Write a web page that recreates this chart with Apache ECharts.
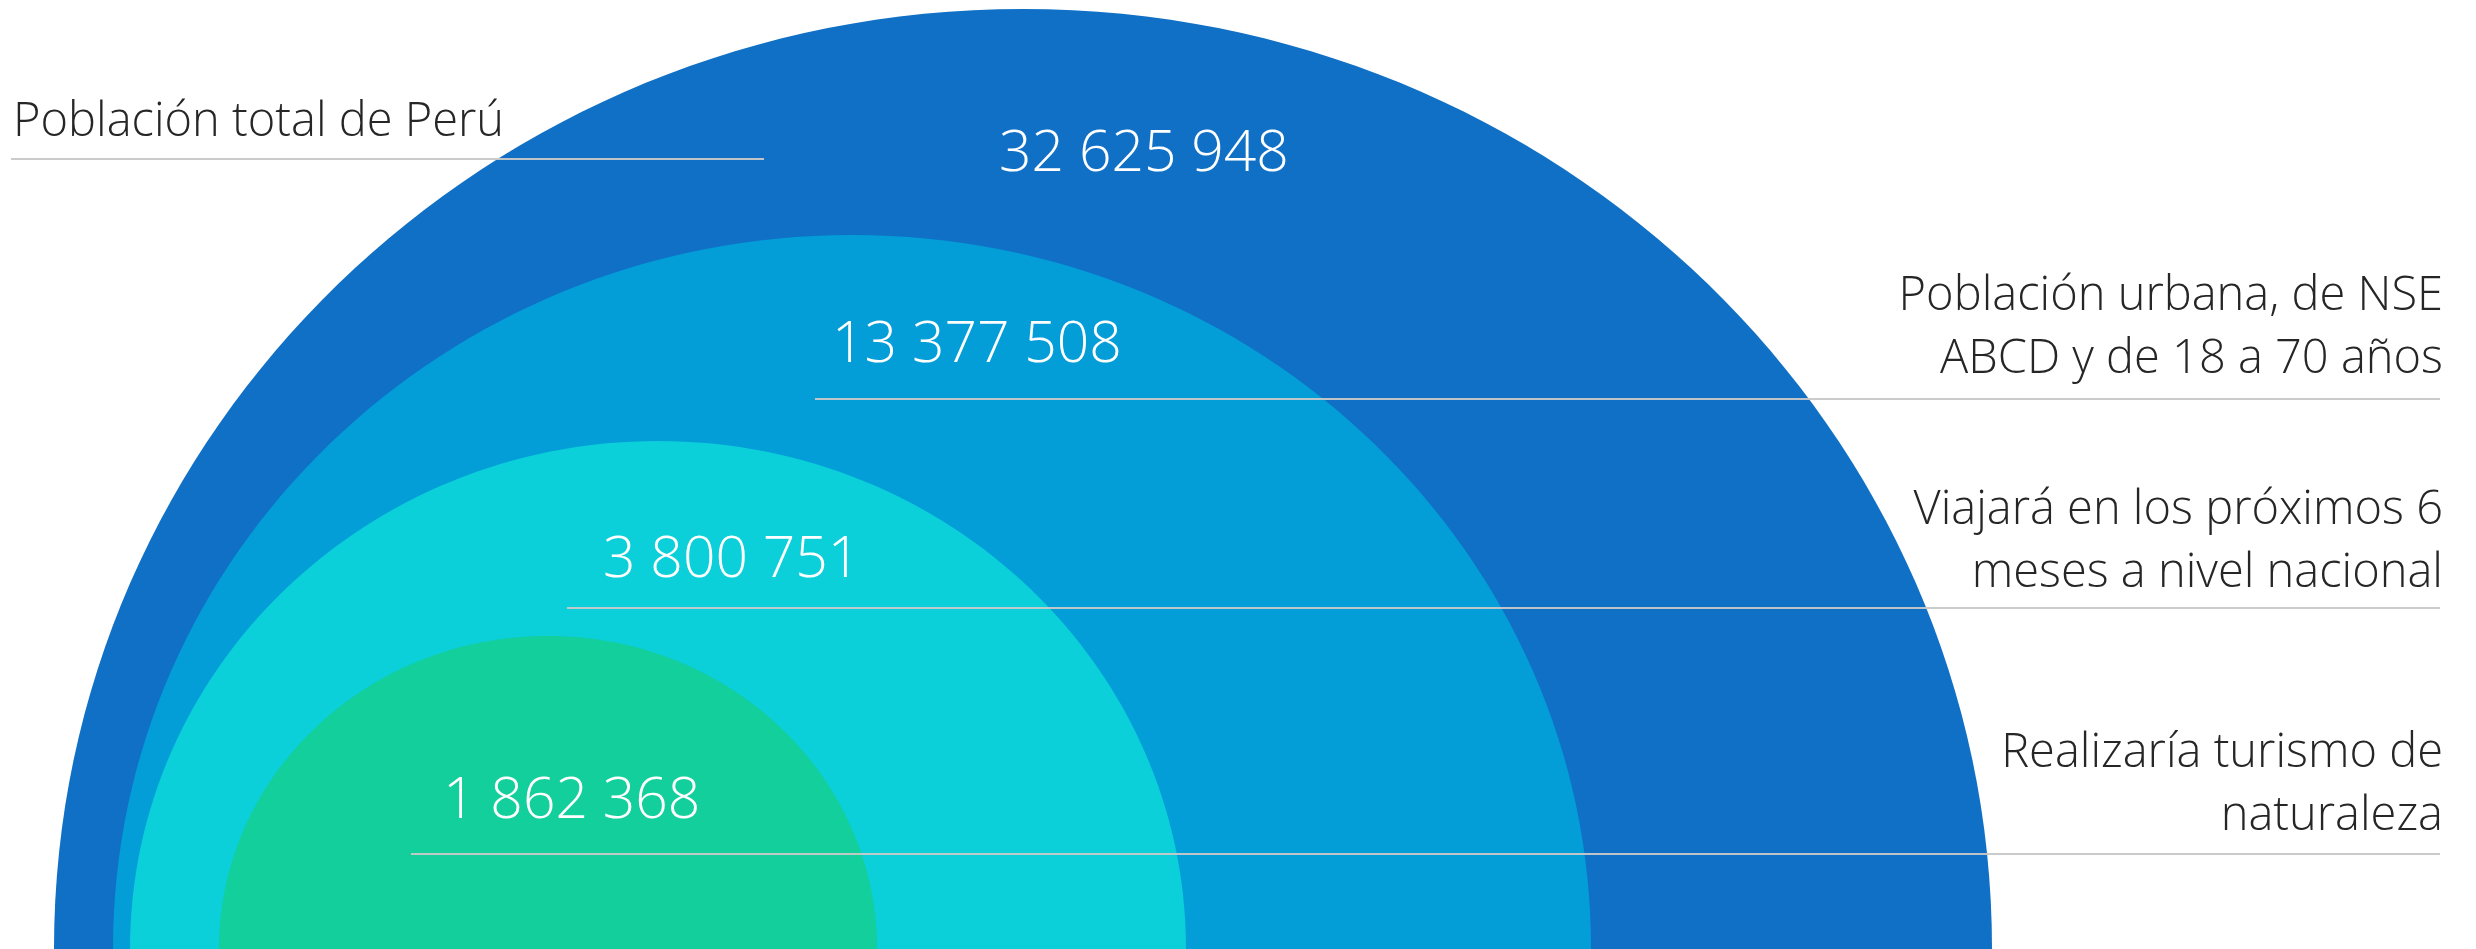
<!DOCTYPE html>
<html>
<head>
<meta charset="utf-8">
<script src="https://cdn.jsdelivr.net/npm/echarts@6/dist/echarts.min.js"></script>
<style>
html,body{margin:0;padding:0;background:#ffffff;}
#chart{width:2476px;height:949px;}
</style>
</head>
<body>
<div id="chart"></div>
<script>
// ---- data ----
const categories = [
  'Población total de Perú',
  'Población urbana, de NSE\nABCD y de 18 a 70 años',
  'Viajará en los próximos 6\nmeses a nivel nacional',
  'Realizaría turismo de\nnaturaleza'
];
const values = [32625948, 13377508, 3800751, 1862368];

// ---- layout (chart units = canvas pixels), kept apart from the data ----
const ringCenterX = [1023, 852, 658, 548];
const ringRadiusX = [969, 739, 528, 329];
const ringRadiusY = [940, 714, 508, 313];
const ringBaseY = 949;
const valueLabelPos = [[999, 173], [832, 364], [603, 579], [443, 820]];
const leaderLines = [[11, 764, 159], [815, 2440, 399], [567, 2440, 608], [411, 2440, 854]];
const categoryAnchor = [[13, 138, 'left'], [2443, 312, 'right'], [2443, 526, 'right'], [2443, 769, 'right']];
const categoryLineGap = 63;

// ---- styles ----
const ringColors = ['#1070C6', '#039DD8', '#0BCFD9', '#12CF9B'];
const FONT = '"Open Sans", "Noto Sans", sans-serif';
const valueFontSize = 57;
const catFontSize = 47;

function fmt(v) {
  return String(v).replace(/\B(?=(\d{3})+(?!\d))/g, ' ');
}

const chart = echarts.init(document.getElementById('chart'), null, {renderer: 'canvas'});

const option = {
  animation: false,
  backgroundColor: '#ffffff',
  grid: {left: 0, right: 0, top: 0, bottom: 0},
  xAxis: {type: 'value', min: 0, max: 2476, show: false},
  yAxis: {type: 'value', min: 0, max: 949, inverse: true, show: false},
  series: [
    {
      type: 'custom',
      clip: false,
      z: 1,
      data: values.map((v, i) => [i, v]),
      renderItem: function (params, api) {
        const i = api.value(0);
        const c = api.coord([ringCenterX[i], ringBaseY]);
        const sz = api.size([ringRadiusX[i], ringRadiusY[i]]);
        return {
          type: 'ellipse',
          shape: {cx: c[0], cy: c[1], rx: sz[0], ry: sz[1]},
          style: {fill: ringColors[i]}
        };
      }
    },
    {
      type: 'custom',
      clip: false,
      z: 5,
      data: values.map((v, i) => [i, v]),
      renderItem: function (params, api) {
        const i = api.value(0);
        const v = api.value(1);
        const children = [];
        const ln = leaderLines[i];
        const p1 = api.coord([ln[0], ln[2]]);
        const p2 = api.coord([ln[1], ln[2]]);
        children.push({
          type: 'line',
          shape: {x1: p1[0], y1: p1[1], x2: p2[0], y2: p2[1]},
          style: {stroke: 'rgba(200,200,200,0.95)', lineWidth: 2}
        });
        const vp = api.coord(valueLabelPos[i]);
        children.push({
          type: 'text',
          x: vp[0],
          y: vp[1] - valueFontSize * 0.32,
          style: {
            text: fmt(v),
            fill: '#ffffff',
            fontFamily: FONT,
            fontWeight: 300,
            fontSize: valueFontSize,
            align: 'left',
            verticalAlign: 'middle'
          }
        });
        const ca = categoryAnchor[i];
        const lines = categories[i].split('\n');
        lines.forEach(function (t, k) {
          const cp = api.coord([ca[0], ca[1] + k * categoryLineGap]);
          children.push({
            type: 'text',
            x: cp[0],
            y: cp[1] - catFontSize * 0.32,
            style: {
              text: t,
              fill: '#262626',
              fontFamily: FONT,
              fontWeight: 300,
              fontSize: catFontSize,
              align: ca[2],
              verticalAlign: 'middle'
            }
          });
        });
        return {type: 'group', children: children};
      }
    }
  ]
};
chart.setOption(option);
</script>
</body>
</html>
